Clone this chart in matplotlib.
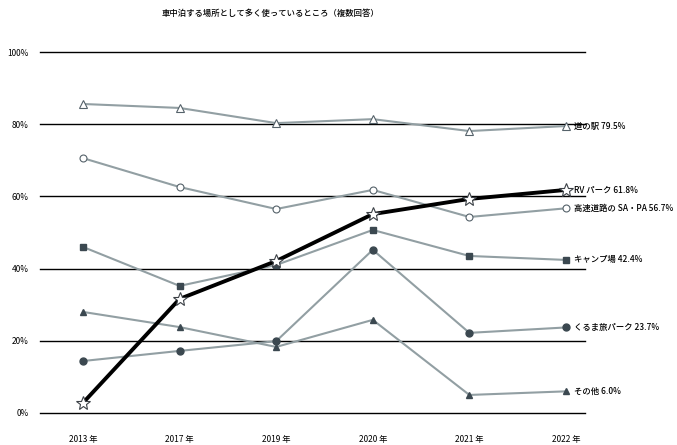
import matplotlib
import numpy as np
import matplotlib.pyplot as plt

plt.rcParams['font.family'] = ['Noto Sans CJK JP', 'DejaVu Sans']

years = ['2013 年', '2017 年', '2019 年', '2020 年', '2021 年', '2022 年']
michinoeki = [85.6, 84.5, 80.3, 81.4, 78.1, 79.5]
rv_park = [2.8, 31.6, 42.1, 55.1, 59.3, 61.8]
sapa = [70.6, 62.6, 56.5, 61.8, 54.3, 56.7]
camp = [46.0, 35.2, 41.0, 50.7, 43.5, 42.4]
kurumatabi = [14.4, 17.2, 19.9, 45.2, 22.2, 23.7]
other = [28.0, 23.8, 18.3, 25.8, 5.0, 6.0]

labels = ['道の駅 79.5%', 'RV パーク 61.8%', '高速道路の SA・PA 56.7%',
          'キャンプ場 42.4%', 'くるま旅パーク 23.7%', 'その他 6.0%']

grey = '#929fa3'
dark = '#3b4850'

fig = plt.figure(figsize=(6.77, 4.45), dpi=100)
ax = fig.add_axes([40 / 677, 32 / 445, 545 / 677, 361 / 445])

x = np.arange(len(years))

# gridlines
for v in range(0, 101, 20):
    ax.axhline(v, color='black', lw=1.0, zorder=1, clip_on=False)

# open markers
ax.plot(x, michinoeki, color=grey, lw=1.5, marker='^', ms=5.5,
        mfc='white', mec='#55626a', mew=0.8, zorder=3, clip_on=False)
ax.plot(x, sapa, color=grey, lw=1.5, marker='o', ms=5,
        mfc='white', mec='#55626a', mew=0.8, zorder=3, clip_on=False)
# filled markers
ax.plot(x, camp, color=grey, lw=1.5, marker='s', ms=4.5,
        mfc=dark, mec=dark, zorder=3, clip_on=False)
ax.plot(x, kurumatabi, color=grey, lw=1.5, marker='o', ms=5,
        mfc=dark, mec=dark, zorder=3, clip_on=False)
ax.plot(x, other, color=grey, lw=1.5, marker='^', ms=5,
        mfc=dark, mec=dark, zorder=3, clip_on=False)
# RV park
ax.plot(x, rv_park, color='black', lw=2.8, marker='*', ms=10,
        mfc='white', mec='#3b4046', mew=0.8, zorder=4, clip_on=False)

series = [michinoeki, rv_park, sapa, camp, kurumatabi, other]
for s, lab in zip(series, labels):
    ax.annotate(lab, (x[-1], s[-1]), xytext=(6, 0), textcoords='offset points',
                va='center', ha='left', fontsize=6, fontweight='medium',
                annotation_clip=False)

ax.set_xlim(-0.445, 5.197)
ax.set_ylim(0, 100)
ax.set_yticks(np.arange(0, 101, 20))
ax.set_yticklabels([f'{v}%' for v in range(0, 101, 20)])
ax.set_xticks(x)
ax.set_xticklabels(years)
ax.tick_params(length=0, labelsize=6)
ax.tick_params(axis='x', pad=16)
ax.tick_params(axis='y', pad=8)
for sp in ax.spines.values():
    sp.set_visible(False)

fig.text(270 / 677, 1 - 13 / 445, '車中泊する場所として多く使っているところ（複数回答）',
         ha='center', va='center', fontsize=6, fontweight='medium')

fig.savefig('out.png', dpi=100)
